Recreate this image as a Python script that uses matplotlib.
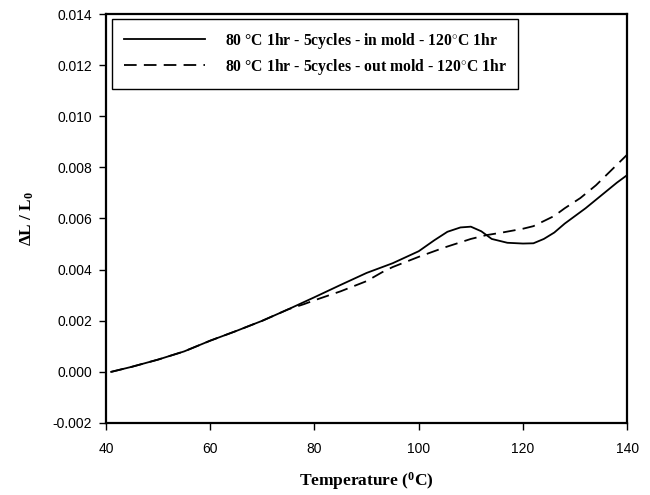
import matplotlib
matplotlib.use("Agg")
import matplotlib.pyplot as plt

# temperatures (deg C) and dL/L0
temp_in = [41, 45, 50, 55, 60, 65, 70, 75, 80, 85, 90, 95, 100, 103, 105.5,
           108, 110, 112, 114, 117, 120, 122, 124, 126, 128, 130, 132, 135,
           138, 140]
strain_in = [0.0000, 0.0002, 0.00048, 0.0008, 0.00122, 0.0016, 0.0020,
             0.00245, 0.00292, 0.0034, 0.00387, 0.00425, 0.00472, 0.00515,
             0.00548, 0.00565, 0.00568, 0.0055, 0.0052, 0.00505, 0.00502,
             0.00503, 0.0052, 0.00545, 0.0058, 0.0061, 0.0064, 0.0069,
             0.0074, 0.0077]

temp_out = [41, 45, 50, 55, 60, 65, 70, 75, 78, 80, 85, 90, 93, 95, 100,
            105, 110, 113, 116, 120, 122, 124, 126, 128, 131, 134, 137, 140]
strain_out = [0.0000, 0.0002, 0.00048, 0.0008, 0.00122, 0.0016, 0.0020,
              0.00245, 0.00265, 0.00280, 0.00315, 0.00355, 0.0039, 0.0041,
              0.0045, 0.00487, 0.0052, 0.00535, 0.00545, 0.0056, 0.0057,
              0.0059, 0.0061, 0.0064, 0.0068, 0.0073, 0.0079, 0.0085]

labels = ["80 °C 1hr - 5cycles - in mold - 120$^{\\circ}$C 1hr",
          "80 °C 1hr - 5cycles - out mold - 120$^{\\circ}$C 1hr"]

xticks = [40, 60, 80, 100, 120, 140]
yticks = [-0.002, 0.000, 0.002, 0.004, 0.006, 0.008, 0.010, 0.012, 0.014]

plt.rcParams['mathtext.fontset'] = 'custom'
plt.rcParams['mathtext.rm'] = 'Liberation Serif:bold'
plt.rcParams['mathtext.it'] = 'Liberation Serif:bold'
plt.rcParams['mathtext.bf'] = 'Liberation Serif:bold'

fig = plt.figure(figsize=(6.5, 4.95), dpi=100)
ax = fig.add_axes([0.163, 0.1455, 0.802, 0.8262])

ax.plot(temp_in, strain_in, color='black', lw=1.3, label=labels[0])
ax.plot(temp_out, strain_out, color='black', lw=1.3, dashes=(7, 4),
        label=labels[1])

ax.set_xlim(40, 140)
ax.set_ylim(-0.002, 0.014)
ax.set_xticks(xticks)
ax.set_yticks(yticks)
ax.set_yticklabels(["%.3f" % v for v in yticks])
ax.tick_params(direction='out', length=5, width=1, labelsize=10)
ax.tick_params(axis='x', pad=9)
ax.tick_params(axis='y', pad=5)
for lab in ax.get_xticklabels() + ax.get_yticklabels():
    lab.set_family('Liberation Sans')
for sp in ax.spines.values():
    sp.set_linewidth(1.6)

ax.set_xlabel("Temperature ($^{0}$C)", family='Liberation Serif',
              weight='bold', fontsize=12.5, labelpad=10)
ax.set_ylabel("ΔL / L$_{0}$", family='Liberation Serif', weight='bold',
              fontsize=12.5, labelpad=12)

leg = ax.legend(loc='upper left', bbox_to_anchor=(0.0115, 0.988),
                borderaxespad=0, fancybox=False, edgecolor='black',
                framealpha=1, handlelength=5.2, handletextpad=1.25,
                labelspacing=0.4, borderpad=0.75,
                prop={'family': 'Liberation Serif', 'weight': 'bold',
                      'size': 11.3})
leg.get_frame().set_linewidth(1.0)

fig.savefig("out.png", dpi=100)
